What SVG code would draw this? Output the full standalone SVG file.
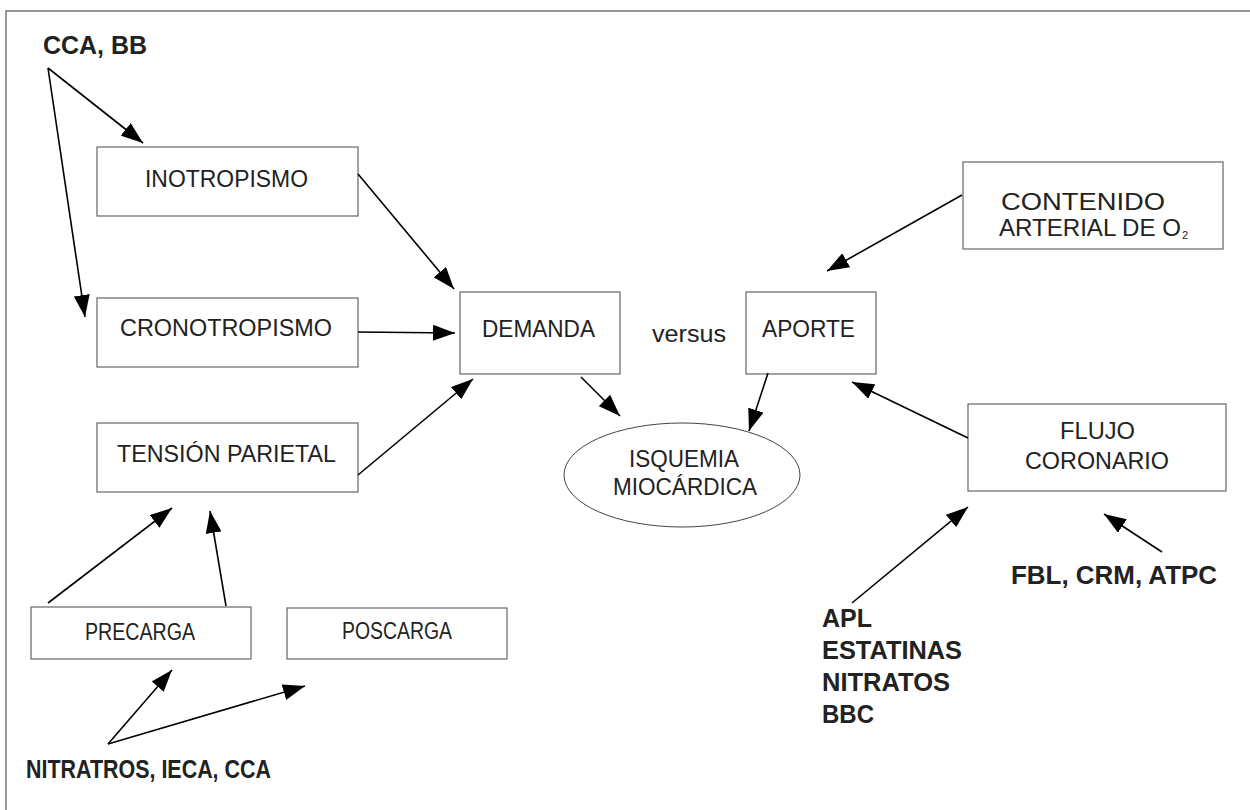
<svg xmlns="http://www.w3.org/2000/svg" width="1250" height="810" viewBox="0 0 1250 810">
<defs>
<marker id="ah" markerUnits="userSpaceOnUse" markerWidth="22" markerHeight="16" refX="22" refY="8" orient="auto">
<path d="M0,0 L22,8 L0,16 z" fill="#000"/>
</marker>
<style>
.box{fill:#fff;stroke:#666;stroke-width:1.2}
.t{font-family:"Liberation Sans",Arial,sans-serif;font-size:23px;fill:#222}
.sub{font-family:"Liberation Sans",Arial,sans-serif;font-size:11px;fill:#222}
.b{font-family:"Liberation Sans",Arial,sans-serif;font-size:25px;font-weight:bold;fill:#222}
.c line{stroke:#000;stroke-width:1.6;marker-end:url(#ah)}
</style>
</defs>
<rect x="0" y="0" width="1250" height="810" fill="#fff"/>
<rect x="6" y="11" width="1260" height="820" fill="none" stroke="#777" stroke-width="1.5"/>

<g id="inotropismo"><rect class="box" x="97" y="147" width="261" height="69"/><text class="t" x="145" y="187" textLength="163" lengthAdjust="spacingAndGlyphs">INOTROPISMO</text></g>
<g id="cronotropismo"><rect class="box" x="97" y="298" width="261" height="69"/><text class="t" x="120" y="336" textLength="212" lengthAdjust="spacingAndGlyphs">CRONOTROPISMO</text></g>
<g id="tension"><rect class="box" x="97" y="423" width="261" height="69"/><text class="t" x="117" y="462" textLength="219" lengthAdjust="spacingAndGlyphs">TENSIÓN PARIETAL</text></g>
<g id="precarga"><rect class="box" x="31" y="607" width="220" height="52"/><text class="t" x="85" y="640" textLength="110" lengthAdjust="spacingAndGlyphs">PRECARGA</text></g>
<g id="poscarga"><rect class="box" x="287" y="608" width="220" height="51"/><text class="t" x="342" y="639" textLength="110" lengthAdjust="spacingAndGlyphs">POSCARGA</text></g>
<g id="demanda"><rect class="box" x="460" y="292" width="160" height="82"/><text class="t" x="482" y="337" textLength="113" lengthAdjust="spacingAndGlyphs">DEMANDA</text></g>
<g id="versus"><text class="t" x="652" y="342" textLength="74" lengthAdjust="spacingAndGlyphs">versus</text></g>
<g id="aporte"><rect class="box" x="746" y="292" width="130" height="82"/><text class="t" x="762" y="337" textLength="93" lengthAdjust="spacingAndGlyphs">APORTE</text></g>
<g id="contenido"><rect class="box" x="963" y="162" width="260" height="87"/><text class="t" x="1001" y="210" textLength="164" lengthAdjust="spacingAndGlyphs">CONTENIDO</text><text class="t" x="999" y="236" textLength="182" lengthAdjust="spacingAndGlyphs">ARTERIAL DE O</text><text class="sub" x="1182" y="239">2</text></g>
<g id="flujo"><rect class="box" x="968" y="404" width="258" height="87"/><text class="t" x="1060" y="439" textLength="75" lengthAdjust="spacingAndGlyphs">FLUJO</text><text class="t" x="1025" y="469" textLength="144" lengthAdjust="spacingAndGlyphs">CORONARIO</text></g>
<g id="isquemia"><ellipse cx="682" cy="475" rx="118" ry="52" fill="#fff" stroke="#444" stroke-width="1"/><text class="t" x="629" y="467" textLength="110" lengthAdjust="spacingAndGlyphs">ISQUEMIA</text><text class="t" x="613" y="495" textLength="144" lengthAdjust="spacingAndGlyphs">MIOCÁRDICA</text></g>

<g id="lbl-cca-bb"><text class="b" x="43" y="54" textLength="104" lengthAdjust="spacingAndGlyphs">CCA, BB</text></g>
<g id="lbl-apl"><text class="b" x="822" y="627" textLength="50" lengthAdjust="spacingAndGlyphs">APL</text><text class="b" x="822" y="659" textLength="140" lengthAdjust="spacingAndGlyphs">ESTATINAS</text><text class="b" x="822" y="691" textLength="128" lengthAdjust="spacingAndGlyphs">NITRATOS</text><text class="b" x="822" y="723" textLength="52" lengthAdjust="spacingAndGlyphs">BBC</text></g>
<g id="lbl-fbl"><text class="b" x="1011" y="584" textLength="206" lengthAdjust="spacingAndGlyphs">FBL, CRM, ATPC</text></g>
<g id="lbl-nitratros"><text class="b" x="26" y="778" textLength="245" lengthAdjust="spacingAndGlyphs">NITRATROS, IECA, CCA</text></g>

<g id="connectors" class="c">
<line x1="48" y1="68" x2="143" y2="143"/>
<line x1="48" y1="68" x2="85" y2="317"/>
<line x1="358" y1="174" x2="454" y2="289"/>
<line x1="358" y1="332" x2="455" y2="333"/>
<line x1="358" y1="475" x2="473" y2="379"/>
<line x1="581" y1="377" x2="620" y2="416"/>
<line x1="768" y1="373" x2="749" y2="431"/>
<line x1="962" y1="195" x2="827" y2="271"/>
<line x1="968" y1="438" x2="852" y2="382"/>
<line x1="852" y1="603" x2="968" y2="507"/>
<line x1="1162" y1="552" x2="1104" y2="514"/>
<line x1="48" y1="603" x2="172" y2="508"/>
<line x1="226" y1="606" x2="210" y2="511"/>
<line x1="108" y1="744" x2="172" y2="670"/>
<line x1="108" y1="744" x2="305" y2="686"/>
</g>
</svg>
